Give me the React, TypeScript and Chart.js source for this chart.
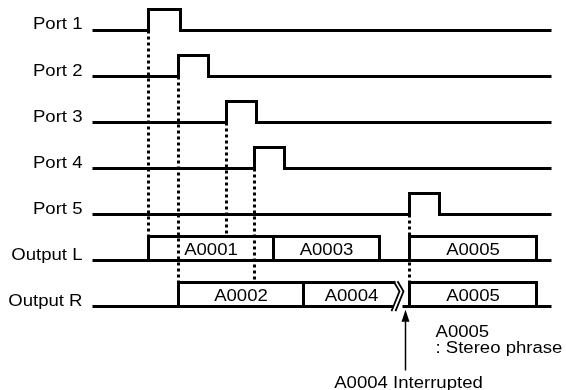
import React, { useEffect, useRef } from "react";
import { Chart, registerables } from "chart.js";

Chart.register(...registerables);

// ---- data (time units along x, row index along y) ----
const portNames = ["Port 1", "Port 2", "Port 3", "Port 4", "Port 5"];
const pulseStart = [148, 178, 226, 254, 409];
const pulseEnd = [180, 208, 256, 284, 439];
const dotTarget = ["L", "R", "L", "R", "R"];

const outputNames = ["Output L", "Output R"];
const outLLabels = ["A0001", "A0003", "A0005"];
const outLStart = [148, 273, 409];
const outLEnd = [273, 379, 536];
const outRLabels = ["A0002", "A0004", "A0005"];
const outRStart = [178, 303, 409];
const outREnd = [303, 395, 536];

const timeStart = 92;
const timeEnd = 551;
const interruptTime = 395;
const resumeTime = 402;
const arrowTime = 405;

const annotationLines = ["A0005", ": Stereo phrase"];
const arrowLabel = "A0004 Interrupted";

// levels (in row units)
const PULSE_H = 0.456;
const BOX_H = 0.52;

const BLACK = "#000000";
const FONT = "16px 'Liberation Sans', Arial, sans-serif";
const SX = 1.16;

function line(data: { x: number; y: number }[], extra: any = {}) {
  return {
    data,
    showLine: true,
    borderColor: BLACK,
    backgroundColor: BLACK,
    borderWidth: 3,
    pointRadius: 0,
    borderJoinStyle: "miter",
    borderCapStyle: "butt",
    tension: 0,
    fill: false,
    ...extra,
  };
}

function rect(s: number, e: number, row: number) {
  return line([
    { x: s, y: row },
    { x: s, y: row - BOX_H },
    { x: e, y: row - BOX_H },
    { x: e, y: row },
  ]);
}

export default function App() {
  const ref = useRef<HTMLCanvasElement | null>(null);

  useEffect(() => {
    if (!ref.current) return;
    const rowL = 5;
    const rowR = 6;
    const ds: any[] = [];

    // port signals
    portNames.forEach((_, i) => {
      ds.push(
        line([
          { x: timeStart, y: i },
          { x: pulseStart[i], y: i },
          { x: pulseStart[i], y: i - PULSE_H },
          { x: pulseEnd[i], y: i - PULSE_H },
          { x: pulseEnd[i], y: i },
          { x: timeEnd, y: i },
        ])
      );
    });

    // Output L
    ds.push(line([{ x: timeStart, y: rowL }, { x: timeEnd, y: rowL }]));
    outLLabels.forEach((_, i) => ds.push(rect(outLStart[i], outLEnd[i], rowL)));

    // Output R
    ds.push(line([{ x: timeStart, y: rowR }, { x: interruptTime - 2, y: rowR }]));
    ds.push(line([{ x: resumeTime, y: rowR }, { x: timeEnd, y: rowR }]));
    ds.push(rect(outRStart[0], outREnd[0], rowR));
    ds.push(
      line([
        { x: outREnd[1], y: rowR - BOX_H },
        { x: outRStart[1], y: rowR - BOX_H },
        { x: outRStart[1], y: rowR },
        { x: outREnd[1] - 2, y: rowR },
      ])
    );
    ds.push(rect(outRStart[2], outREnd[2], rowR));

    // break symbol (two thin strokes)
    [0, 4].forEach((off) => {
      ds.push(
        line(
          [
            { x: interruptTime - 2 + off, y: rowR - 0.55 },
            { x: interruptTime + 4 + off, y: rowR - 0.33 },
            { x: interruptTime - 4 + off, y: rowR + 0.1 },
          ],
          { borderWidth: 1.8 }
        )
      );
    });

    // dotted guides (drawn underneath)
    pulseStart.forEach((t, i) => {
      const target = dotTarget[i] === "L" ? rowL - BOX_H : rowR - BOX_H;
      ds.push(
        line(
          [
            { x: t, y: i },
            { x: t, y: target },
          ],
          { borderWidth: 3, borderDash: [3, 3] }
        )
      );
    });

    const textPlugin = {
      id: "texts",
      afterDatasetsDraw(chart: any) {
        const { ctx, scales } = chart;
        const xs = scales.x;
        const ys = scales.y;
        const draw = (t: string, x: number, y: number, align: CanvasTextAlign) => {
          ctx.save();
          ctx.translate(x, y);
          ctx.scale(SX, 1);
          ctx.font = FONT;
          ctx.fillStyle = BLACK;
          ctx.textAlign = align;
          ctx.textBaseline = "alphabetic";
          ctx.fillText(t, 0, 0);
          ctx.restore();
        };
        const labelX = xs.getPixelForValue(timeStart) - 10;
        portNames.forEach((n, i) => draw(n, labelX, ys.getPixelForValue(i) - 1, "right"));
        outputNames.forEach((n, i) =>
          draw(n, labelX, ys.getPixelForValue(rowL + i) - 1, "right")
        );
        const boxY = (row: number) => ys.getPixelForValue(row) - 6;
        outLLabels.forEach((l, i) =>
          draw(l, xs.getPixelForValue((outLStart[i] + outLEnd[i]) / 2), boxY(rowL), "center")
        );
        outRLabels.forEach((l, i) => {
          const e = i === 1 ? outREnd[i] + 4 : outREnd[i];
          draw(l, xs.getPixelForValue((outRStart[i] + e) / 2), boxY(rowR), "center");
        });
        // annotation
        const annX = xs.getPixelForValue(435);
        draw(annotationLines[0], annX, ys.getPixelForValue(6.652), "left");
        draw(annotationLines[1], annX, ys.getPixelForValue(7.0), "left");
        draw(arrowLabel, xs.getPixelForValue(408), ys.getPixelForValue(7.78), "center");

        // arrow
        const ax = xs.getPixelForValue(arrowTime);
        const tip = ys.getPixelForValue(6.07);
        const tail = ys.getPixelForValue(7.39);
        ctx.save();
        ctx.strokeStyle = BLACK;
        ctx.fillStyle = BLACK;
        ctx.lineWidth = 1.5;
        ctx.beginPath();
        ctx.moveTo(ax, tail);
        ctx.lineTo(ax, tip + 10);
        ctx.stroke();
        ctx.beginPath();
        ctx.moveTo(ax, tip);
        ctx.lineTo(ax - 4, tip + 12);
        ctx.lineTo(ax + 4, tip + 12);
        ctx.closePath();
        ctx.fill();
        ctx.restore();
      },
    };

    const chart = new Chart(ref.current, {
      type: "scatter",
      data: { datasets: ds },
      options: {
        animation: false,
        responsive: false,
        events: [],
        layout: { padding: 0 },
        plugins: { legend: { display: false }, tooltip: { enabled: false } },
        scales: {
          x: { type: "linear", min: -0.5, max: 565.5, display: false },
          y: { type: "linear", min: -0.663, max: 7.815, reverse: true, display: false },
        },
      },
      plugins: [textPlugin],
    } as any);
    return () => chart.destroy();
  }, []);

  return (
    <div style={{ position: "absolute", left: 0, top: 0, width: 566, height: 390, background: "#fff" }}>
      <canvas ref={ref} width={566} height={390} style={{ width: 566, height: 390 }} />
    </div>
  );
}
